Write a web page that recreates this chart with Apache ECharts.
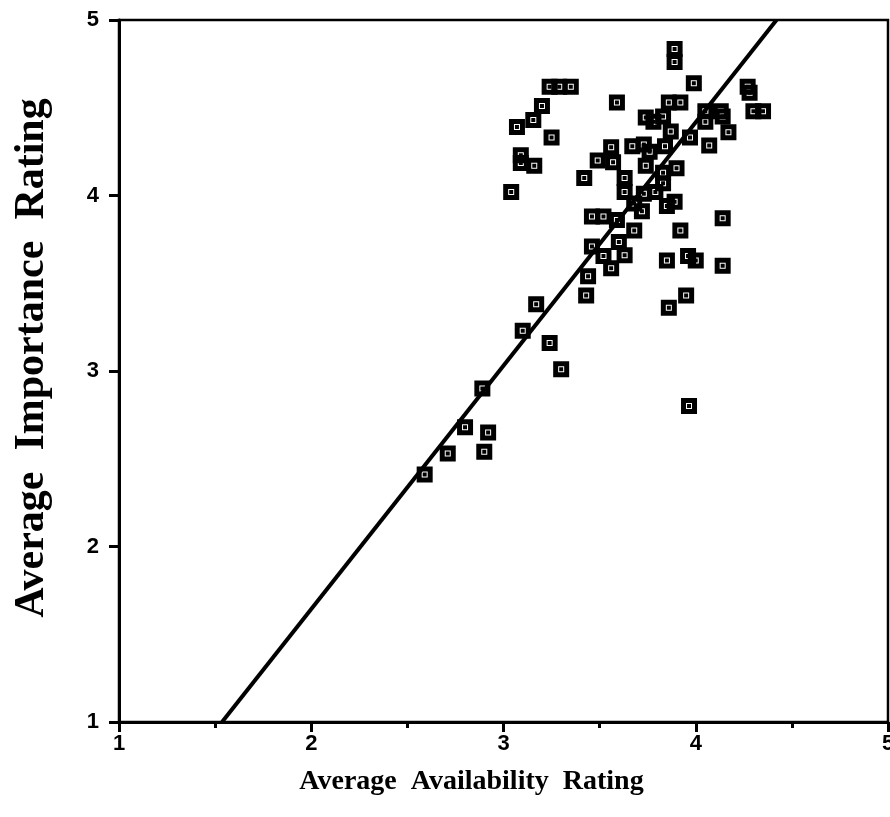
<!DOCTYPE html>
<html>
<head>
<meta charset="utf-8">
<script src="https://cdn.jsdelivr.net/npm/echarts@6/dist/echarts.min.js"></script>
<style>
  html, body { margin: 0; padding: 0; background: #fff; }
  #chart { width: 890px; height: 817px; }
</style>
</head>
<body>
<div id="chart"></div>
<script>
// average availability (x) and importance (y) per item
var availability = [
  2.59, 2.71, 2.80, 2.89, 2.92, 2.90, 3.10, 3.24, 3.30, 3.17,
  3.43, 3.44, 3.95, 3.86, 3.965, 3.85, 3.96, 4.00, 4.14, 4.14, 3.92,
  3.46, 3.52, 3.56, 3.63, 3.60, 3.46, 3.52, 3.59, 3.68, 3.68, 3.72, 3.85, 3.89,
  3.63, 3.73, 3.79, 3.83, 3.83, 3.90, 3.74, 3.63, 3.42, 3.04,
  3.49, 3.57, 3.56, 3.67, 3.73, 3.76, 3.84, 3.87, 3.97, 4.07, 4.17,
  4.05, 4.05, 4.13, 4.14, 3.74, 3.78, 3.83, 3.86, 3.92, 3.59, 3.99,
  3.89, 3.89, 4.27, 4.28, 4.30, 4.35,
  3.24, 3.29, 3.35, 3.20, 3.155, 3.07, 3.25, 3.09, 3.09, 3.16
];
var importance = [
  2.41, 2.53, 2.68, 2.90, 2.65, 2.54, 3.23, 3.16, 3.01, 3.38,
  3.43, 3.54, 3.43, 3.36, 2.80, 3.63, 3.655, 3.63, 3.60, 3.87, 3.80,
  3.71, 3.655, 3.585, 3.66, 3.735, 3.88, 3.88, 3.86, 3.80, 3.955, 3.91, 3.94, 3.965,
  4.02, 4.01, 4.02, 4.07, 4.13, 4.155, 4.17, 4.10, 4.10, 4.02,
  4.20, 4.19, 4.275, 4.28, 4.29, 4.25, 4.28, 4.365, 4.33, 4.285, 4.36,
  4.42, 4.48, 4.48, 4.45, 4.445, 4.42, 4.45, 4.53, 4.53, 4.53, 4.64,
  4.835, 4.76, 4.62, 4.585, 4.48, 4.48,
  4.62, 4.62, 4.62, 4.51, 4.43, 4.39, 4.33, 4.23, 4.185, 4.17
];
// fitted regression line end points
var fitX = [1.536, 4.42];
var fitY = [1, 5];

var xTicks = [1, 2, 3, 4, 5];
var yTicks = [1, 2, 3, 4, 5];

var points = availability.map(function (v, i) { return [v, importance[i]]; });
var fitLine = fitX.map(function (v, i) { return [v, fitY[i]]; });

// black square with a thin white inner outline
var markSymbol = 'path://M0,0L16,0L16,16L0,16Z M5,5L5,11L11,11L11,5Z M6,6L10,6L10,10L6,10Z';

var tickFont = { fontFamily: 'Liberation Sans', fontWeight: 'bold', fontSize: 22, color: '#000' };

var myChart = echarts.init(document.getElementById('chart'));
myChart.setOption({
  animation: false,
  grid: {
    left: 119, right: 2, top: 20, bottom: 95,
    outerBoundsMode: 'none',
    containLabel: false,
    show: true, borderColor: '#000', borderWidth: 2.5, backgroundColor: 'transparent'
  },
  xAxis: {
    type: 'value', min: xTicks[0], max: xTicks[xTicks.length - 1], interval: 1,
    name: 'Average  Availability  Rating',
    nameLocation: 'middle', nameGap: 46,
    nameTextStyle: { fontFamily: 'Liberation Serif', fontWeight: 'bold', fontSize: 28, color: '#000', padding: [0, 64, 0, 0] },
    axisLine: { show: true, lineStyle: { color: '#000', width: 3 } },
    axisTick: { show: true, inside: false, length: 10, lineStyle: { color: '#000', width: 3 } },
    minorTick: { show: true, splitNumber: 2, length: 6, lineStyle: { color: '#000', width: 3 } },
    axisLabel: Object.assign({ margin: 11 }, tickFont),
    splitLine: { show: false }
  },
  yAxis: {
    type: 'value', min: yTicks[0], max: yTicks[yTicks.length - 1], interval: 1,
    name: 'Average  Importance  Rating',
    nameLocation: 'middle', nameGap: 66,
    nameTextStyle: { fontFamily: 'Liberation Serif', fontWeight: 'bold', fontSize: 42, color: '#000', padding: [0, 0, 0, 26] },
    axisLine: { show: true, lineStyle: { color: '#000', width: 3 } },
    axisTick: { show: true, inside: false, length: 10, lineStyle: { color: '#000', width: 3 } },
    axisLabel: Object.assign({ margin: 20 }, tickFont),
    splitLine: { show: false }
  },
  series: [
    {
      type: 'scatter',
      data: points,
      symbol: markSymbol,
      symbolSize: 16,
      itemStyle: { color: '#000', opacity: 1 },
      z: 2
    },
    {
      type: 'line',
      data: fitLine,
      showSymbol: false,
      symbol: 'none',
      lineStyle: { color: '#000', width: 4 },
      z: 3
    }
  ]
});
</script>
</body>
</html>
